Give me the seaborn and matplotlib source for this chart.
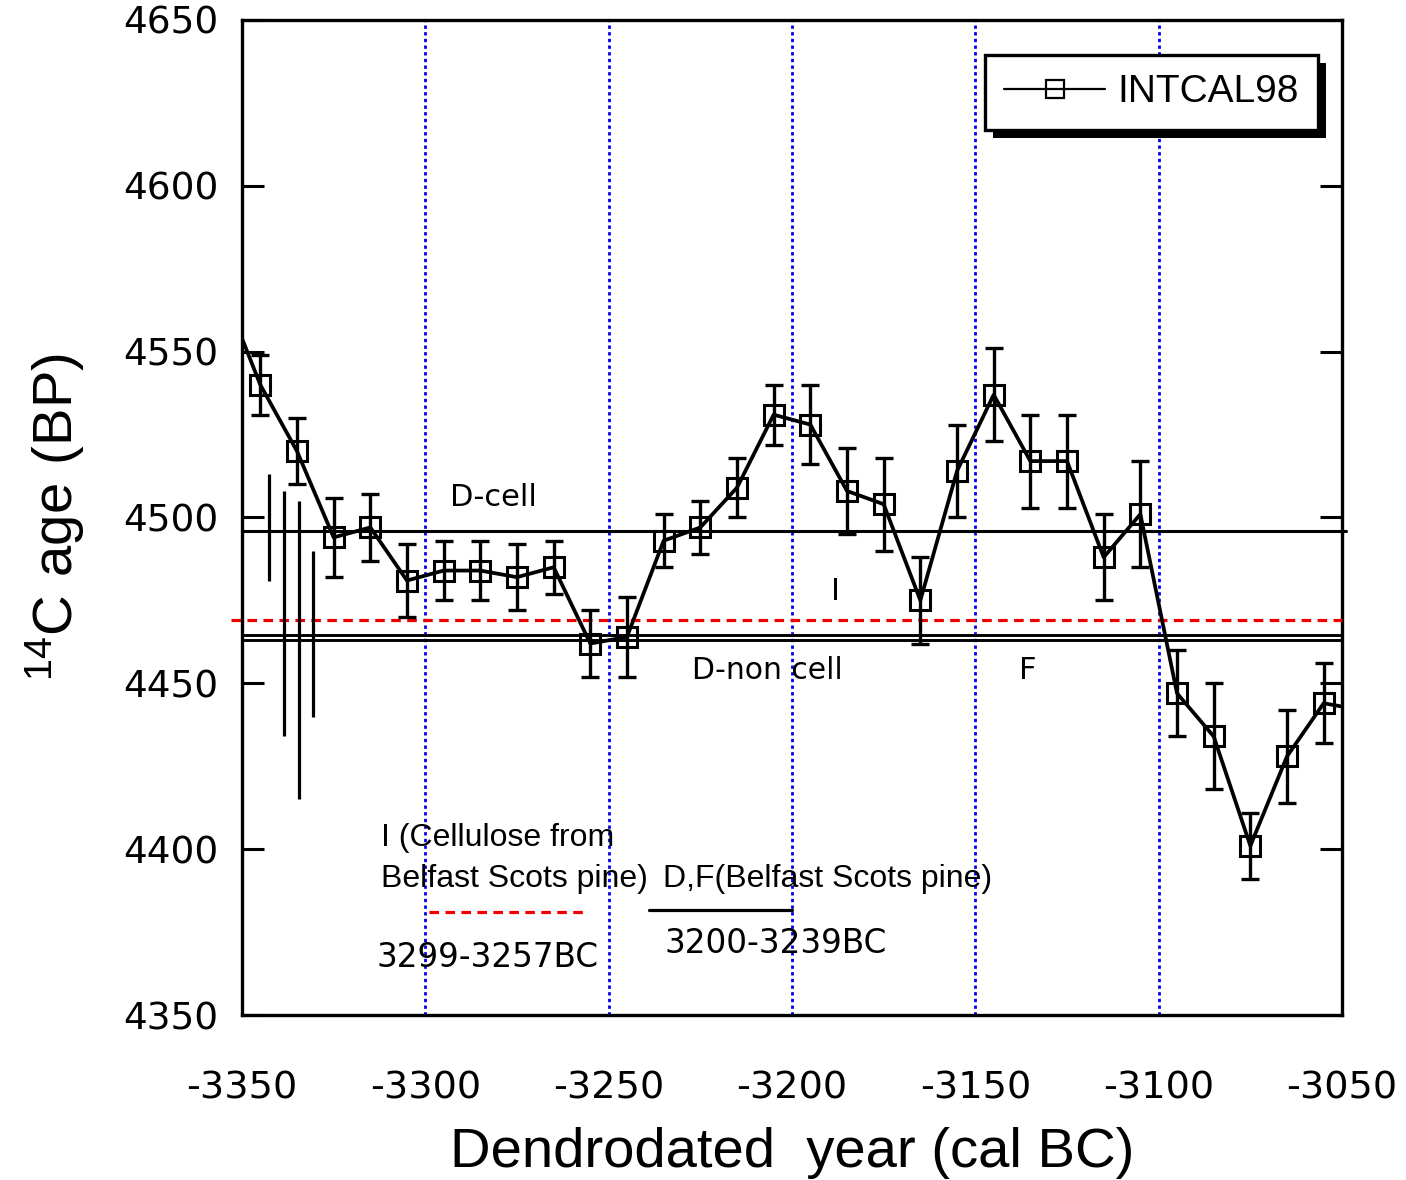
import matplotlib
matplotlib.use("Agg")
import matplotlib.pyplot as plt
import matplotlib.patheffects as pe
from matplotlib.lines import Line2D
import seaborn as sns

# INTCAL98 calibration points (cal BC as negative years) with 1-sigma errors
intcal_year = [-3345, -3335, -3325, -3315, -3305, -3295, -3285, -3275, -3265, -3255,
               -3245, -3235, -3225, -3215, -3205, -3195, -3185, -3175, -3165, -3155,
               -3145, -3135, -3125, -3115, -3105, -3095, -3085, -3075, -3065, -3055]
intcal_age = [4540, 4520, 4494, 4497, 4481, 4484, 4484, 4482, 4485, 4462,
              4464, 4493, 4497, 4509, 4531, 4528, 4508, 4504, 4475, 4514,
              4537, 4517, 4517, 4488, 4501, 4447, 4434, 4401, 4428, 4444]
intcal_err = [9, 10, 12, 10, 11, 9, 9, 10, 8, 10,
              12, 8, 8, 9, 9, 12, 13, 14, 13, 14,
              14, 14, 14, 13, 16, 13, 16, 10, 14, 12]
# neighbouring curve points just outside the plotted window
edge_year = [-3355, -3045]
edge_age = [4568, 4442]

# sample measurements drawn as plain vertical ranges
sample_year = [-3342.5, -3338.5, -3334.5, -3330.5]
sample_age = [4497, 4471, 4460, 4465]
sample_err = [16, 37, 45, 25]

# wiggle-matched sample ages
dcell_age = 4496
icell_age = 4469
dnon_age = 4464.5
f_age = 4463

# calendar ranges shown in the key below the curve
i_range = [-3299, -3257]
df_range = [-3239, -3200]
key_age = 4381

x_ticks = [-3350, -3300, -3250, -3200, -3150, -3100, -3050]
y_ticks = [4350, 4400, 4450, 4500, 4550, 4600, 4650]

sns.set_theme(style="white")
plt.rcParams["font.family"] = ["Liberation Sans", "DejaVu Sans"]
plt.rcParams["mathtext.fontset"] = "custom"
plt.rcParams["mathtext.rm"] = "Liberation Sans"
plt.rcParams["text.color"] = "black"
plt.rcParams["axes.labelcolor"] = "black"

fig = plt.figure(figsize=(14.06, 11.8), dpi=100)
ax = fig.add_axes([0.1721, 0.1398, 0.7824, 0.8433])

line_x = [edge_year[0]] + intcal_year + [edge_year[1]]
line_y = [edge_age[0]] + intcal_age + [edge_age[1]]
sns.lineplot(x=line_x, y=line_y, ax=ax, color="black", lw=2.7, marker="s",
             markersize=14.5, markerfacecolor="none", markeredgecolor="black",
             markeredgewidth=2.2, zorder=4)
ax.errorbar(intcal_year, intcal_age, yerr=intcal_err, fmt="none", ecolor="black",
            elinewidth=2.4, capsize=6.5, capthick=2.4, zorder=4)
ax.errorbar(sample_year, sample_age, yerr=sample_err, fmt="none", ecolor="black",
            elinewidth=2.3, capsize=0, zorder=4)

# horizontal reference ages
ax.plot([-3350, -3049], [dcell_age, dcell_age], color="black", lw=2.2,
        clip_on=False, zorder=3)
ax.plot([-3353, -3050], [icell_age, icell_age], color="#ee0000", lw=2.3,
        dashes=(3.0, 2.0), clip_on=False, zorder=3)
ax.plot([-3350, -3050], [dnon_age, dnon_age], color="black", lw=2.1, zorder=3)
ax.plot([-3350, -3050], [f_age, f_age], color="black", lw=2.1, zorder=3)

# key lines for the calendar ranges
ax.plot(i_range, [key_age, key_age], color="#ee0000", lw=2.3, dashes=(3.0, 2.0), zorder=3)
ax.plot(df_range, [key_age + 0.8, key_age + 0.8], color="black", lw=2.3, zorder=3)

ann = dict(family="DejaVu Sans", color="black", va="baseline", ha="left")
ax.text(-3293.3, 4503.5, "D-cell", fontsize=22, **ann)
ax.text(-3189.4, 4475.0, "I", fontsize=22, **ann)
ax.text(-3227.3, 4451.3, "D-non cell", fontsize=21.5, **ann)
ax.text(-3138.1, 4451.3, "F", fontsize=22, **ann)
ax.text(-3313.2, 4364.6, "3299-3257BC", fontsize=23.5, **ann)
ax.text(-3234.9, 4368.6, "3200-3239BC", fontsize=23.5, **ann)
lab = dict(family="Liberation Sans", color="black", va="baseline", ha="left", fontsize=23)
ax.text(-3312.1, 4401.0, "I (Cellulose from", **lab)
ax.text(-3312.1, 4388.5, "Belfast Scots pine)", **lab)
ax.text(-3235.2, 4388.5, "D,F(Belfast Scots pine)", **lab)

ax.set_xlim(-3350, -3050)
ax.set_ylim(4350, 4650)
ax.set_xticks(x_ticks)
ax.set_yticks(y_ticks)
ax.set_xticklabels([str(v) for v in x_ticks], family="DejaVu Sans", fontsize=27.5)
ax.set_yticklabels([str(v) for v in y_ticks], family="DejaVu Sans", fontsize=27)
ax.tick_params(axis="x", length=0, pad=40, colors="black")
ax.tick_params(axis="y", direction="in", length=16, width=2.2, pad=17,
               left=True, right=True, colors="black")

ax.grid(axis="x", color="#0000ee", lw=2.0, linestyle=(0, (1.2, 1.2)))
ax.grid(axis="y", visible=False)
ax.set_axisbelow(True)
for s in ax.spines.values():
    s.set_color("black")
    s.set_linewidth(2.4)
    s.set_visible(True)

ax.set_xlabel("Dendrodated  year (cal BC)", fontsize=40.5, family="Liberation Sans",
              labelpad=15, color="black")
ax.set_ylabel(r"$\mathregular{^{14}C\ age\ (BP)}$", fontsize=40.5, labelpad=26,
              color="black")

handle = Line2D([], [], color="black", lw=1.6, marker="s", markersize=13.5,
                markerfacecolor="none", markeredgecolor="black", markeredgewidth=1.6)
leg = ax.legend([handle], ["INTCAL98"], loc="upper right", bbox_to_anchor=(0.978, 0.965),
                borderaxespad=0, frameon=True, fancybox=False, numpoints=1,
                handlelength=2.6, handletextpad=0.3, borderpad=0.5,
                labelcolor="black",
                prop={"family": "Liberation Sans", "size": 28})
frame = leg.get_frame()
frame.set_edgecolor("black")
frame.set_linewidth(2.4)
frame.set_facecolor("white")
frame.set_alpha(1)
frame.set_path_effects([pe.SimplePatchShadow(offset=(6, -6), shadow_rgbFace="black", alpha=1),
                        pe.Normal()])
leg.set_zorder(6)

fig.savefig("out.png", dpi=100, facecolor="white")
